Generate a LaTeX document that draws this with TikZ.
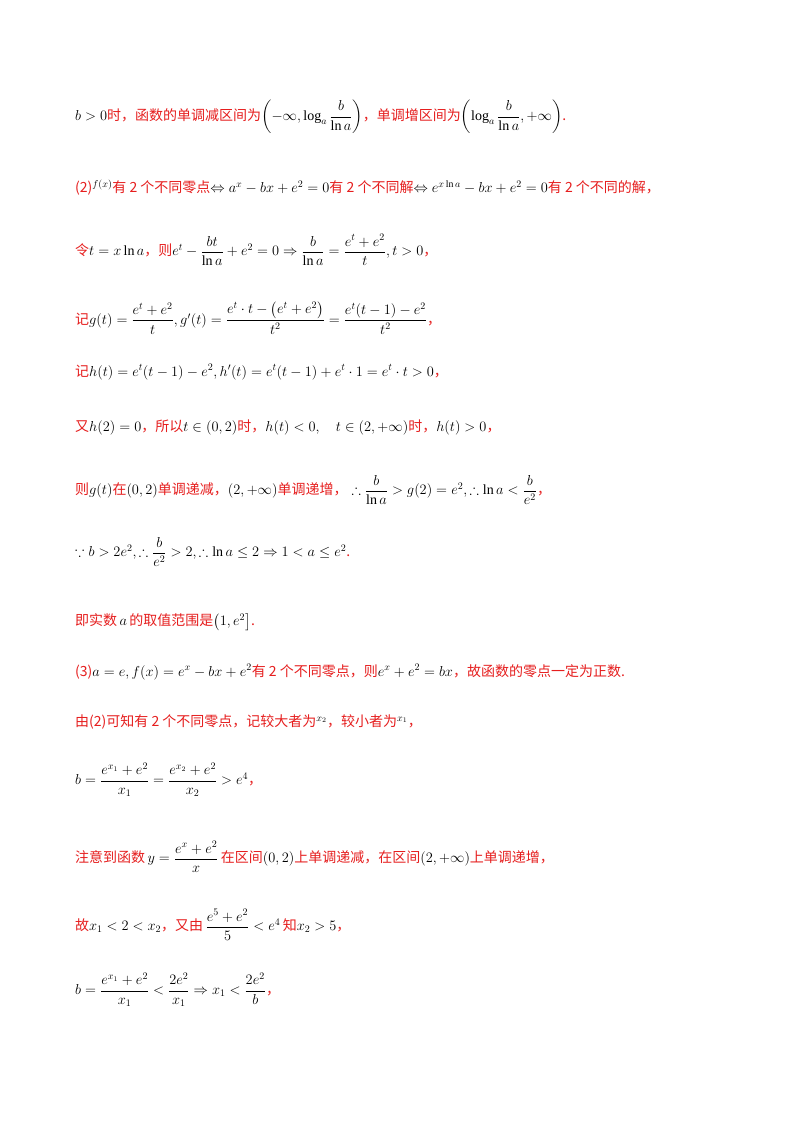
\documentclass[tikz,border=0pt]{standalone}
\usepackage{fontspec}
\usepackage{amsmath,amssymb}
\setmainfont{Liberation Serif}
\newfontfamily\cjk{Noto Sans CJK SC}
\definecolor{rd}{RGB}{230,30,30}
\newcommand{\zh}[1]{\textcolor{rd}{\cjk #1}}
\begin{document}
\begin{tikzpicture}[x=1pt,y=-1pt,
  ln/.style={anchor=west,inner sep=0pt,font=\fontsize{14}{17}\selectfont}]
\useasboundingbox (0,0) rectangle (800,1132);
\fill[white] (0,0) rectangle (800,1132);
\node[ln] (l1) at (75,117) {$b>0$\zh{时，函数的单调减区间为}$\left(-\infty,\log_a\dfrac{b}{\ln a}\right)$\zh{，单调增区间为}$\left(\log_a\dfrac{b}{\ln a},+\infty\right)$\zh{.}};
\node[ln] (l2) at (75,188) {\zh{(2)}$^{f(x)}$\zh{有 2 个不同零点}$\Leftrightarrow a^x-bx+e^2=0$\zh{有 2 个不同解}$\Leftrightarrow e^{x\ln a}-bx+e^2=0$\zh{有 2 个不同的解，}};
\node[ln] (l3) at (75,250) {\zh{令}$t=x\ln a$\zh{，则}$e^t-\dfrac{bt}{\ln a}+e^2=0\Rightarrow\dfrac{b}{\ln a}=\dfrac{e^t+e^2}{t},t>0$\zh{，}};
\node[ln] (l4) at (75,318) {\zh{记}$g(t)=\dfrac{e^t+e^2}{t},g'(t)=\dfrac{e^t\cdot t-\left(e^t+e^2\right)}{t^2}=\dfrac{e^t(t-1)-e^2}{t^2}$\zh{，}};
\node[ln] (l5) at (75,372) {\zh{记}$h(t)=e^t(t-1)-e^2,h'(t)=e^t(t-1)+e^t\cdot1=e^t\cdot t>0$\zh{，}};
\node[ln] (l6) at (75,427) {\zh{又}$h(2)=0$\zh{，所以}$t\in(0,2)$\zh{时，}$h(t)<0,\quad t\in(2,+\infty)$\zh{时，}$h(t)>0$\zh{，}};
\node[ln] (l7) at (75,490) {\zh{则}$g(t)$\zh{在}$(0,2)$\zh{单调递减，}$(2,+\infty)$\zh{单调递增，}$\;\therefore\dfrac{b}{\ln a}>g(2)=e^2,\therefore\ln a<\dfrac{b}{e^2}$\zh{，}};
\node[ln] (l8) at (75,552) {$\because b>2e^2,\therefore\dfrac{b}{e^2}>2,\therefore\ln a\le2\Rightarrow1<a\le e^2$\zh{.}};
\node[ln] (l9) at (75,622) {\zh{即实数}$\,a\,$\zh{的取值范围是}$\left(1,e^2\right]$\zh{.}};
\node[ln] (l10) at (75,672) {\zh{(3)}$a=e,f(x)=e^x-bx+e^2$\zh{有 2 个不同零点，则}$e^x+e^2=bx$\zh{，故函数的零点一定为正数.}};
\node[ln] (l11) at (75,722) {\zh{由(2)可知有 2 个不同零点，记较大者为}$^{x_2}$\zh{，较小者为}$^{x_1}$\zh{，}};
\node[ln] (l12) at (75,780) {$b=\dfrac{e^{x_1}+e^2}{x_1}=\dfrac{e^{x_2}+e^2}{x_2}>e^4$\zh{，}};
\node[ln] (l13) at (75,857) {\zh{注意到函数}$\,y=\dfrac{e^x+e^2}{x}\,$\zh{在区间}$(0,2)$\zh{上单调递减，在区间}$(2,+\infty)$\zh{上单调递增，}};
\node[ln] (l14) at (75,925) {\zh{故}$x_1<2<x_2$\zh{，又由}$\,\dfrac{e^5+e^2}{5}<e^4\,$\zh{知}$x_2>5$\zh{，}};
\node[ln] (l15) at (75,990) {$b=\dfrac{e^{x_1}+e^2}{x_1}<\dfrac{2e^2}{x_1}\Rightarrow x_1<\dfrac{2e^2}{b}$\zh{，}};
\end{tikzpicture}
\end{document}
